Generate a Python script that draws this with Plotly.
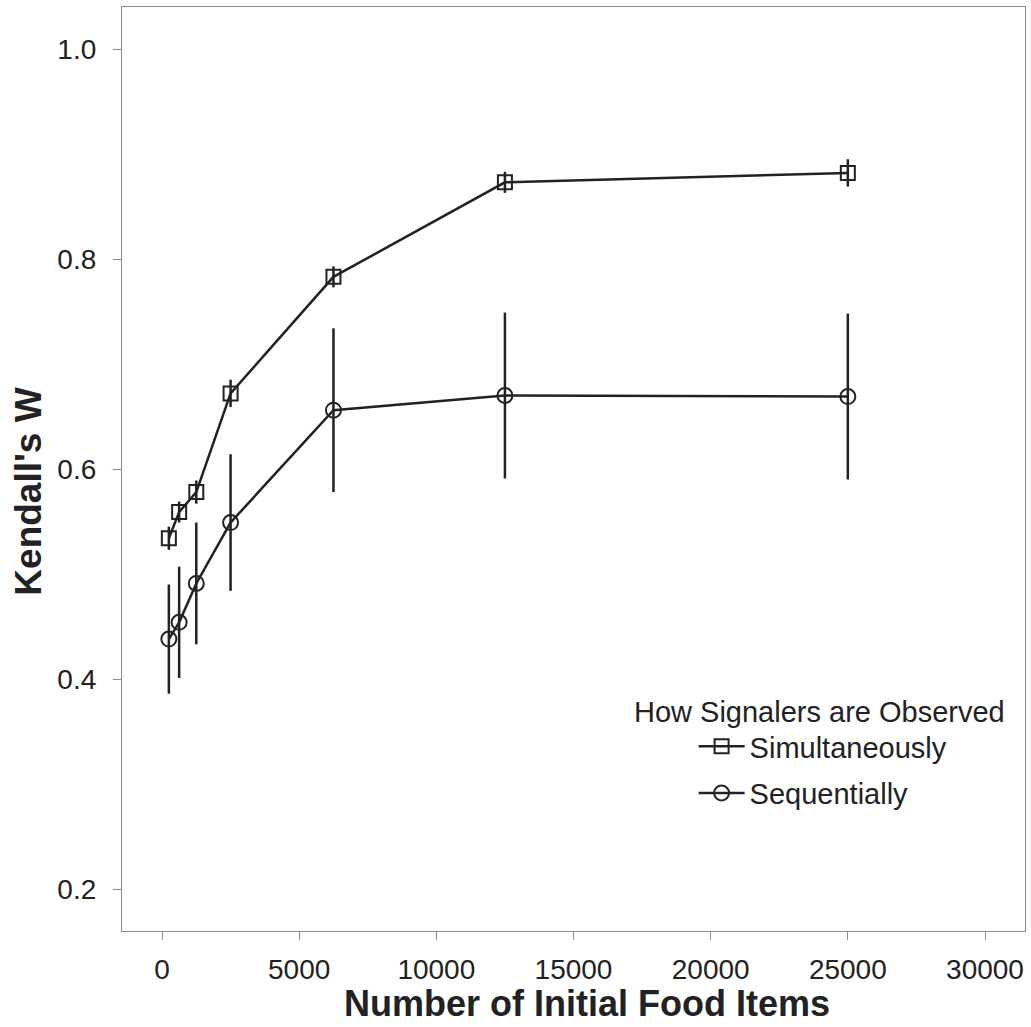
import plotly.graph_objects as go

food_items = [250, 625, 1250, 2500, 6250, 12500, 25000]
sim_w = [0.534, 0.559, 0.578, 0.672, 0.783, 0.873, 0.882]
sim_err = [0.011, 0.010, 0.011, 0.013, 0.010, 0.010, 0.013]
seq_w = [0.438, 0.454, 0.491, 0.549, 0.656, 0.670, 0.669]
seq_err = [0.052, 0.053, 0.058, 0.065, 0.078, 0.079, 0.079]

x_ticks = [0, 5000, 10000, 15000, 20000, 25000, 30000]
y_ticks = [0.2, 0.4, 0.6, 0.8, 1.0]

FONT = "Liberation Sans, Arial, Helvetica, sans-serif"
INK = "#222222"

fig = go.Figure()
fig.add_trace(go.Scatter(
    x=food_items, y=sim_w, mode="lines+markers", name="Simultaneously",
    legendgroup="a",
    line=dict(color=INK, width=2.5),
    marker=dict(symbol="square-open", size=14, color=INK, line=dict(width=2, color=INK)),
    error_y=dict(type="data", array=sim_err, visible=True, width=0, thickness=2.5, color=INK),
))
fig.add_trace(go.Scatter(
    x=food_items, y=seq_w, mode="lines+markers", name="Sequentially",
    legendgroup="b",
    line=dict(color=INK, width=2.5),
    marker=dict(symbol="circle-open", size=15, color=INK, line=dict(width=2, color=INK)),
    error_y=dict(type="data", array=seq_err, visible=True, width=0, thickness=2.5, color=INK),
))

fig.update_layout(
    width=1031, height=1027,
    margin=dict(l=122, r=6, t=7, b=96, autoexpand=False),
    paper_bgcolor="white", plot_bgcolor="white",
    font=dict(family=FONT, size=28, color=INK),
    showlegend=True,
    legend=dict(
        x=0.633, y=0.2273, xanchor="left", yanchor="top",
        bgcolor="rgba(0,0,0,0)", font=dict(size=29, color=INK),
        tracegroupgap=6, itemwidth=46,
    ),
    xaxis=dict(
        range=[-1458, 31458], tickvals=x_ticks, ticktext=[str(v) for v in x_ticks],
        showgrid=False, zeroline=False, showline=True, mirror=True,
        linecolor="#8c8c8c", linewidth=1.2,
        ticks="outside", ticklen=8, tickcolor="#8c8c8c", tickwidth=1.2,
        tickfont=dict(size=28, color=INK), ticklabelstandoff=5,
    ),
    yaxis=dict(
        range=[0.16, 1.04], tickvals=y_ticks, ticktext=["0.2", "0.4", "0.6", "0.8", "1.0"],
        showgrid=False, zeroline=False, showline=True, mirror=True,
        linecolor="#8c8c8c", linewidth=1.2,
        ticks="outside", ticklen=8, tickcolor="#8c8c8c", tickwidth=1.2,
        tickfont=dict(size=28, color=INK), ticklabelstandoff=11,
    ),
    annotations=[
        dict(
            text="How Signalers are Observed", xref="paper", yref="paper",
            x=0.5648, y=0.237, xanchor="left", yanchor="middle", showarrow=False,
            font=dict(size=29, color=INK),
        ),
        dict(
            text="<b>Number of Initial Food Items</b>", xref="paper", yref="paper",
            x=0.5155, y=-0.079, xanchor="center", yanchor="middle", showarrow=False,
            font=dict(size=36, color=INK),
        ),
        dict(
            text="<b>Kendall's W</b>", xref="paper", yref="paper", textangle=-90,
            x=-0.1045, y=0.4751, xanchor="center", yanchor="middle", showarrow=False,
            font=dict(size=37, color=INK),
        ),
    ],
)

fig.write_html(
    "out.html",
    config={"displayModeBar": False},
    post_script="document.body.style.margin='0';document.body.style.overflow='hidden';",
)
